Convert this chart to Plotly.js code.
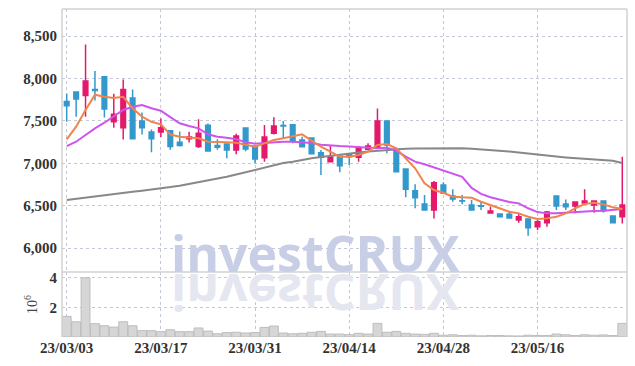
<!DOCTYPE html>
<html><head><meta charset="utf-8">
<script src="https://cdn.plot.ly/plotly-3.0.1.min.js"></script>
<style>html,body{margin:0;padding:0;background:#fff}#chart{width:635px;height:366px}</style>
</head><body><div id="chart"></div>
<script>
const dates = ['23/03/03','23/03/06','23/03/07','23/03/08','23/03/09','23/03/10','23/03/13','23/03/14','23/03/15','23/03/16',
 '23/03/17','23/03/20','23/03/21','23/03/22','23/03/23','23/03/24','23/03/27','23/03/28','23/03/29','23/03/30',
 '23/03/31','23/04/03','23/04/04','23/04/05','23/04/06','23/04/07','23/04/10','23/04/11','23/04/12','23/04/13',
 '23/04/14','23/04/17','23/04/18','23/04/19','23/04/20','23/04/21','23/04/24','23/04/25','23/04/26','23/04/27',
 '23/04/28','23/05/02','23/05/03','23/05/04','23/05/08','23/05/09','23/05/10','23/05/11','23/05/12','23/05/15',
 '23/05/16','23/05/17','23/05/18','23/05/19','23/05/22','23/05/23','23/05/24','23/05/25','23/05/26','23/05/30'];
const tickDates = ['23/03/03','23/03/17','23/03/31','23/04/14','23/04/28','23/05/16'];

const openP  = [7730,7840,7800,7870,8020,7490,7420,7770,7500,7370, 7370,7385,7250,7290,7200,7450,7210,7228,7157,7416,
                7204,7066,7354,7445,7455,7275,7298,7125,7019,7083, 7100,7071,7165,7177,7499,7169,6933,6677,6520,6449,
                6744,6615,6560,6509,6500,6414,6403,6399,6331,6343, 6252,6300,6615,6520,6497,6532,6509,6556,6379,6370];
const highP  = [7820,7850,8400,8090,8030,7820,7990,7870,7600,7400, 7530,7390,7375,7373,7520,7470,7285,7230,7349,7420,
                7210,7452,7543,7499,7460,7314,7300,7157,7216,7090, 7105,7204,7236,7648,7505,7175,6940,6752,6626,6791,
                6776,6693,6626,6567,6545,6490,6410,6438,6418,6350, 6340,6438,6620,6575,6550,6693,6560,6560,6385,7078];
const lowP   = [7490,7550,7550,7740,7540,7420,7280,7290,7340,7130, 7310,7160,7200,7245,7180,7140,7160,7060,7106,7144,
                7000,7019,7340,7287,7236,7190,7110,6862,7010,6894, 6980,7019,7160,7170,7118,6901,6599,6469,6449,6351,
                6640,6547,6517,6445,6449,6410,6365,6350,6300,6146, 6213,6252,6450,6450,6410,6530,6418,6420,6295,6292];
const closeP = [7680,7760,7970,7860,7640,7580,7870,7290,7420,7290, 7420,7200,7210,7310,7355,7145,7190,7157,7322,7169,
                7051,7310,7440,7440,7267,7196,7113,7071,7074,6972, 7078,7177,7204,7499,7216,6901,6693,6594,6449,6771,
                6646,6579,6555,6450,6495,6438,6371,6355,6370,6241, 6311,6426,6497,6488,6544,6556,6556,6441,6300,6509];
const ma5  = [7283,7432,7629,7809,7785,7770,7785,7649,7550,7490, 7460,7340,7314,7307,7295,7255,7248,7248,7243,7216,
              7196,7236,7275,7295,7314,7342,7267,7196,7137,7078, 7078,7098,7137,7216,7228,7177,7059,6941,6764,6685,
              6653,6607,6599,6594,6547,6509,6469,6430,6410,6370, 6343,6351,6370,6410,6469,6520,6536,6516,6481,6461];
const ma20 = [7204,7255,7334,7413,7479,7550,7629,7668,7688,7649, 7620,7545,7472,7440,7413,7342,7314,7302,7283,7250,
              7230,7240,7250,7255,7255,7250,7240,7220,7210,7205, 7200,7190,7180,7178,7185,7150,7080,7020,6990,6955,
              6915,6882,6842,6710,6640,6600,6570,6545,6528,6470, 6425,6410,6410,6418,6426,6430,6438,6440,6449,6461];
const ma60 = [6567,6582,6597,6612,6624,6638,6652,6665,6678,6690, 6705,6720,6737,6757,6778,6800,6820,6843,6868,6895,
              6921,6950,6978,7003,7020,7042,7060,7075,7090,7105, 7115,7128,7140,7150,7160,7167,7172,7175,7177,7178,
              7179,7179,7177,7172,7166,7158,7150,7140,7128,7115, 7100,7090,7080,7070,7062,7055,7048,7040,7030,7005];
const volume = [1.39,1.03,4.0,0.90,0.76,0.67,1.03,0.76,0.43,0.43, 0.36,0.49,0.36,0.36,0.61,0.40,0.22,0.30,0.32,0.27,
                0.30,0.65,0.74,0.27,0.22,0.25,0.32,0.38,0.20,0.20, 0.16,0.25,0.20,0.92,0.32,0.38,0.25,0.20,0.18,0.25,
                0.12,0.15,0.10,0.12,0.08,0.10,0.10,0.08,0.07,0.12, 0.10,0.10,0.20,0.15,0.10,0.15,0.12,0.14,0.10,0.92];

const tickFont = {family:'Liberation Sans Narrow', size:15, color:'#333', weight:700};
const data = [
  {type:'bar', x:dates, y:volume, xaxis:'x', yaxis:'y2',
   marker:{color:'#d6d6d6', line:{color:'#bdbdbd', width:1}}, hoverinfo:'skip'},
  {type:'candlestick', x:dates, open:openP, high:highP, low:lowP, close:closeP, xaxis:'x', yaxis:'y',
   increasing:{line:{color:'#e5196c', width:1.5}, fillcolor:'#e5196c'},
   decreasing:{line:{color:'#3399cc', width:1.5}, fillcolor:'#3399cc'},
   whiskerwidth:0, hoverinfo:'skip'},
  {type:'scatter', mode:'lines', x:dates, y:ma60, xaxis:'x', yaxis:'y', line:{color:'#888888', width:2}, hoverinfo:'skip'},
  {type:'scatter', mode:'lines', x:dates, y:ma20, xaxis:'x', yaxis:'y', line:{color:'#cc55ee', width:2}, hoverinfo:'skip'},
  {type:'scatter', mode:'lines', x:dates, y:ma5, xaxis:'x', yaxis:'y', line:{color:'#f0844c', width:2}, hoverinfo:'skip'}
];
const split = 0.198;
const frame = {color:'#d2d2d2', width:1.5};
const wmFont = {family:'Open Sans', size:50, weight:700};
const layout = {
  width:635, height:366,
  margin:{l:62, r:8, t:9, b:29, pad:0},
  paper_bgcolor:'#fff', plot_bgcolor:'#fff',
  showlegend:false, bargap:0.06,
  xaxis:{type:'category', range:[-0.5,59.5], tickmode:'array', tickvals:tickDates, ticktext:tickDates,
         showgrid:true, gridcolor:'#c3c7da', griddash:'dot', gridwidth:1, zeroline:false, showline:false,
         ticks:'', tickfont:tickFont, rangeslider:{visible:false}, anchor:'y2', fixedrange:true},
  yaxis:{domain:[split,1], range:[5718,8820], dtick:500, tick0:0, tickformat:',d',
         showgrid:true, gridcolor:'#c3c7da', griddash:'dot', gridwidth:1, zeroline:false, showline:false,
         ticks:'', tickfont:tickFont, ticklabelstandoff:4},
  yaxis2:{domain:[0,split], range:[0,4.39], tickmode:'array', tickvals:[2,4], ticktext:['2','4'],
         showgrid:true, gridcolor:'#c3c7da', griddash:'dot', gridwidth:1, zeroline:false, showline:false,
         ticks:'', tickfont:tickFont, ticklabelstandoff:4,
         title:{text:'10<sup>6</sup>', font:{family:'Liberation Sans Narrow', size:14, color:'#444'}, standoff:8}},
  shapes:[
    {type:'line', xref:'paper', yref:'paper', x0:0, x1:0, y0:0, y1:1, line:frame},
    {type:'line', xref:'paper', yref:'paper', x0:0, x1:1, y0:1, y1:1, line:frame},
    {type:'line', xref:'paper', yref:'paper', x0:1, x1:1, y0:0, y1:1, line:frame},
    {type:'line', xref:'paper', yref:'paper', x0:0, x1:1, y0:split, y1:split, line:frame}
  ],
  annotations:[
    {xref:'paper', yref:'paper', x:0.449, y:0.2576, xanchor:'center', yanchor:'middle', showarrow:false,
     text:'investCRUX', font:Object.assign({color:'#c8cee5'}, wmFont)},
    {xref:'paper', yref:'paper', x:0.449, y:0.1357, xanchor:'center', yanchor:'middle', showarrow:false,
     text:'investCRUX', font:Object.assign({color:'#e4e7f0'}, wmFont)}
  ]
};
Plotly.newPlot('chart', data, layout, {staticPlot:true, displayModeBar:false}).then(function(){
  const g = document.querySelector('.annotation[data-index="1"]');
  if (g) g.setAttribute('transform', 'translate(0,585) scale(1,-1)');
});
</script></body></html>
